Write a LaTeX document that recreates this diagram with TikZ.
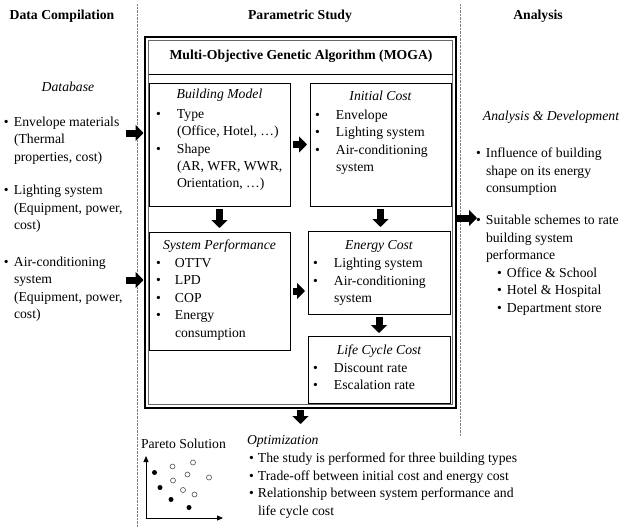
\documentclass[tikz,border=0pt]{standalone}
\usepackage{fontspec}
\setmainfont{Liberation Serif}
\usetikzlibrary{arrows.meta}

\newcommand{\bfont}{\fontsize{13.7}{17.5}\selectfont}

\begin{document}
\begin{tikzpicture}[x=1pt, y=-1pt,
    every node/.style={inner sep=0pt, outer sep=0pt, font=\bfont},
    box/.style={draw, line width=0.8pt, anchor=north west},
    txt/.style={anchor=base west, align=left},
    ttl/.style={anchor=base, font=\bfont\itshape},
    hdr/.style={anchor=base, font=\bfont\bfseries},
    blockarr/.style={line width=7pt, -{Triangle[length=8pt, width=16pt]}},
    dot/.style={circle, fill=black, minimum size=5pt},
    odot/.style={circle, draw=black!70, line width=0.6pt, minimum size=5pt}]
    \useasboundingbox (0,0) rectangle (624,527);

    % column headers
    \node[hdr] (hcomp) at (62,20) {Data Compilation};
    \node[hdr] (hpar) at (300,20) {Parametric Study};
    \node[hdr] (hana) at (538,20) {Analysis};
    \draw[densely dotted, gray] (137,4) -- (137,527);
    \draw[densely dotted, gray] (460,4) -- (460,436);

    % Data Compilation
    \node[ttl] (dbase) at (68,91.5) {Database};
    \node[txt] (envl) at (4,126) {\begin{tabular}[t]{@{}p{10pt}@{}l@{}}
        • & Envelope materials\\ & (Thermal\\ & properties, cost)\end{tabular}};
    \node[txt] (light) at (4,194.5) {\begin{tabular}[t]{@{}p{10pt}@{}l@{}}
        • & Lighting system\\ & (Equipment, power,\\ & cost)\end{tabular}};
    \node[txt] (aircon) at (4,266) {\begin{tabular}[t]{@{}p{10pt}@{}l@{}}
        • & Air-conditioning\\ & system\\ & (Equipment, power,\\ & cost)\end{tabular}};

    % MOGA
    \node[draw, line width=2.2pt, anchor=north west, minimum width=311pt, minimum height=371pt] (moga) at (145,37) {};
    \draw[black!60, line width=0.6pt] (148.5,40.5) rectangle (452.5,404.5);
    \node[hdr] (mogat) at (301,59.5) {Multi-Objective Genetic Algorithm (MOGA)};
    \draw[line width=0.8pt] (149,74) -- (452.5,74);

    \node[box, minimum width=141pt, minimum height=123pt] (bm) at (149,83) {};
    \node[ttl] (bmt) at (219.5,99) {Building Model};
    \node[txt] (bml) at (156,118) {\begin{tabular}[t]{@{}p{21pt}@{}l@{}}
        • & Type\\ & (Office, Hotel, …)\\ • & Shape\\ & (AR, WFR, WWR,\\ & Orientation, …)\end{tabular}};

    \node[box, minimum width=141pt, minimum height=123pt] (ic) at (310,83) {};
    \node[ttl] (ict) at (380.5,100) {Initial Cost};
    \node[txt] (icl) at (315,119) {\begin{tabular}[t]{@{}p{21pt}@{}l@{}}
        • & Envelope\\ • & Lighting system\\ • & Air-conditioning\\ & system\end{tabular}};

    \node[box, minimum width=141pt, minimum height=118pt] (sp) at (149,232) {};
    \node[ttl] (spt) at (219.5,249.5) {System Performance};
    \node[txt] (spl) at (156,267) {\begin{tabular}[t]{@{}p{19pt}@{}l@{}}
        • & OTTV\\ • & LPD\\ • & COP\\ • & Energy\\ & consumption\end{tabular}};

    \node[box, minimum width=142pt, minimum height=83pt] (ec) at (308,231) {};
    \node[ttl] (ect) at (379,249) {Energy Cost};
    \node[txt] (ecl) at (313,267.5) {\begin{tabular}[t]{@{}p{21pt}@{}l@{}}
        • & Lighting system\\ • & Air-conditioning\\ & system\end{tabular}};

    \node[box, minimum width=142pt, minimum height=67pt] (lcc) at (308,336) {};
    \node[ttl] (lcct) at (379,354.5) {Life Cycle Cost};
    \node[txt] (lccl) at (313,372) {\begin{tabular}[t]{@{}p{21pt}@{}l@{}}
        • & Discount rate\\ • & Escalation rate\end{tabular}};

    % Analysis
    \node[ttl] (adev) at (551,120.5) {Analysis \& Development};
    \node[txt] (infl) at (476,157.5) {\begin{tabular}[t]{@{}p{10pt}@{}l@{}}
        • & Influence of building\\ & shape on its energy\\ & consumption\end{tabular}};
    \node[txt] (suit) at (476,224.5) {\begin{tabular}[t]{@{}p{10pt}@{}l@{}}
        • & Suitable schemes to rate\\ & building system\\ & performance\end{tabular}};
    \node[txt] (btypes) at (497,277) {\begin{tabular}[t]{@{}p{10pt}@{}l@{}}
        • & Office \& School\\ • & Hotel \& Hospital\\ • & Department store\end{tabular}};

    % Optimization
    \node[anchor=base west] (pareto) at (141,448.5) {Pareto Solution};
    \coordinate (po) at (146,518);
    \draw[line width=0.8pt, {Triangle[length=6pt,width=5pt]}-{Triangle[length=6pt,width=5pt]}] (146,456) -- (po) -- (223,518);
    \foreach \p in {(154.5,472.5), (160,487.5), (171,499.5), (189,507.5)}
        \node[dot] at \p {};
    \foreach \p in {(172.5,466.5), (193,462.5), (187.5,474.5), (173,480.5), (209,477.5), (183,490), (194.5,494.5)}
        \node[odot] at \p {};
    \node[ttl, anchor=base west] (optt) at (247,444.5) {Optimization};
    \node[txt] (optl) at (249,462.5) {\begin{tabular}[t]{@{}p{9pt}@{}l@{}}
        • & The study is performed for three building types\\ • & Trade-off between initial cost and energy cost\\
        • & Relationship between system performance and\\ & life cycle cost\end{tabular}};

    % block arrows
    \coordinate (db1) at (126,133);
    \coordinate (db2) at (126,280);
    \coordinate (res) at (477,218);
    \coordinate (opt) at (300.5,424);
    \draw[blockarr, shorten >=1.5pt] (db1) -- (db1 -| moga.west);
    \draw[blockarr, shorten >=1.5pt] (db2) -- (db2 -| moga.west);
    \draw[blockarr] (moga.east |- res) -- (res);
    \draw[blockarr, shorten <=3pt, shorten >=3pt] (bm) -- (ic);
    \draw[blockarr, shorten <=3pt, shorten >=3pt] (sp.east) -- (sp.east -| ec.west);
    \draw[blockarr, shorten <=3pt, shorten >=4pt] (bm) -- (sp);
    \draw[blockarr, shorten <=3pt, shorten >=4pt] (ic.south) -- (ic.south |- ec.north);
    \draw[blockarr, shorten <=3pt, shorten >=3pt] (ec) -- (lcc);
    \draw[blockarr, shorten <=2pt] (moga) -- (opt);
\end{tikzpicture}
\end{document}
